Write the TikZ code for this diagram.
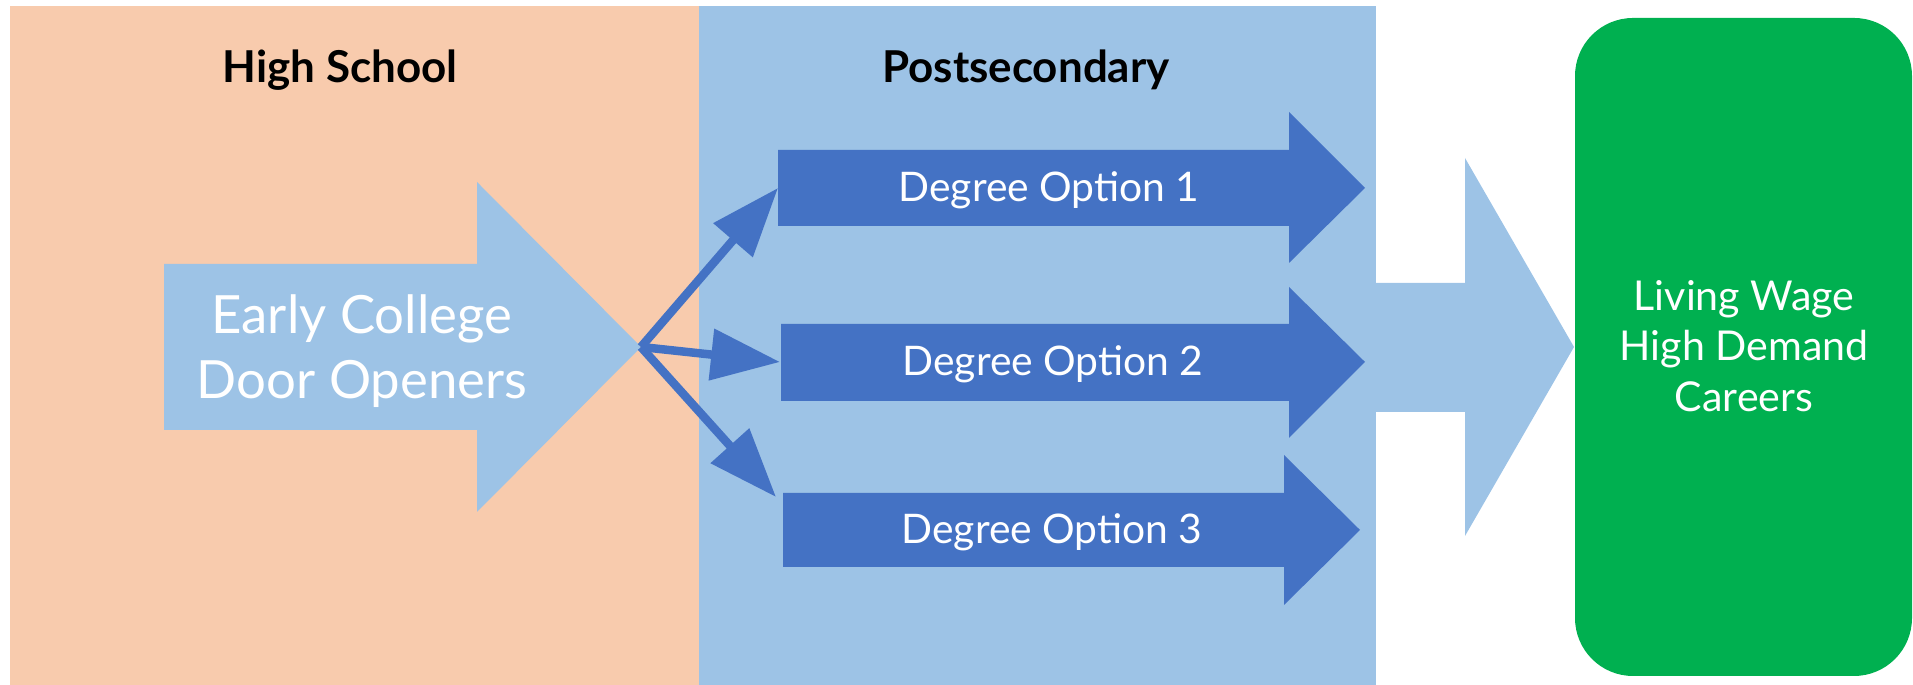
\documentclass[tikz,border=0pt]{standalone}
\usepackage{fontspec}
\setmainfont{Lato}
\usepackage{tikz}
\usetikzlibrary{arrows.meta}
\usepackage{xcolor}
\definecolor{peach}{HTML}{F8CBAD}
\definecolor{paleblue}{HTML}{9DC3E6}
\definecolor{optblue}{HTML}{4472C4}
\definecolor{careergreen}{HTML}{00B050}

\begin{document}
\begin{tikzpicture}[
	heading/.style={anchor=base, font=\fontsize{12.5}{15}\selectfont\bfseries},
	optlabel/.style={anchor=base, text=white, font=\fontsize{11.6}{14}\selectfont},
	pathway/.style={optblue, line width=0.085cm, -{Triangle[length=0.69cm, width=0.5cm]}}]
		\useasboundingbox (0,0) rectangle (19.13,6.85);
		\fill[peach] (0.10,0) rectangle (6.99,6.79);
		\fill[paleblue] (6.99,0) rectangle (13.76,6.79);
		\fill[careergreen, rounded corners=0.58cm] (15.75,0.09) rectangle (19.12,6.67);
%		\draw[step=0.5cm, thin] (0,0) grid (19.13,6.85);
		\fill[paleblue] (1.64,2.55) -- (4.77,2.55) -- (4.77,1.73) -- (6.41,3.38)
			-- (4.77,5.03) -- (4.77,4.21) -- (1.64,4.21) -- cycle;
		\fill[paleblue] (13.50,2.73) -- (14.65,2.73) -- (14.65,1.49) -- (15.74,3.38)
			-- (14.65,5.27) -- (14.65,4.02) -- (13.50,4.02) -- cycle;
		\fill[optblue] (7.78,4.59) -- (12.89,4.59) -- (12.89,4.22) -- (13.65,4.97)
			-- (12.89,5.73) -- (12.89,5.35) -- (7.78,5.35) -- cycle;
		\fill[optblue] (7.81,2.84) -- (12.89,2.84) -- (12.89,2.47) -- (13.65,3.23)
			-- (12.89,3.98) -- (12.89,3.61) -- (7.81,3.61) -- cycle;
		\fill[optblue] (7.83,1.18) -- (12.84,1.18) -- (12.84,0.80) -- (13.60,1.55)
			-- (12.84,2.30) -- (12.84,1.92) -- (7.83,1.92) -- cycle;
		\coordinate (ectip) at (6.41,3.38);
		\coordinate (opt1) at (7.78,4.97);
		\coordinate (opt2) at (7.80,3.23);
		\coordinate (opt3) at (7.76,1.88);
		\draw[pathway] (ectip) -- (opt1);
		\draw[pathway] (ectip) -- (opt2);
		\draw[pathway] (ectip) -- (opt3);
		\node[heading] (hs) at (3.40,6.02){High School};
		\node[heading] (ps) at (10.26,6.02){Postsecondary};
		\node[text=white, align=center, font=\fontsize{15}{18.5}\selectfont] (ec) at (3.62,3.34){Early College\\
			Door Openers};
		\node[optlabel] (d1) at (10.49,4.83){Degree Option 1};
		\node[optlabel] (d2) at (10.53,3.09){Degree Option 2};
		\node[optlabel] (d3) at (10.52,1.41){Degree Option 3};
		\node[text=white, align=center, font=\fontsize{11.7}{14.4}\selectfont] (lw) at (17.44,3.39){Living Wage\\
			High Demand\\
			Careers};
	\end{tikzpicture}
\end{document}
